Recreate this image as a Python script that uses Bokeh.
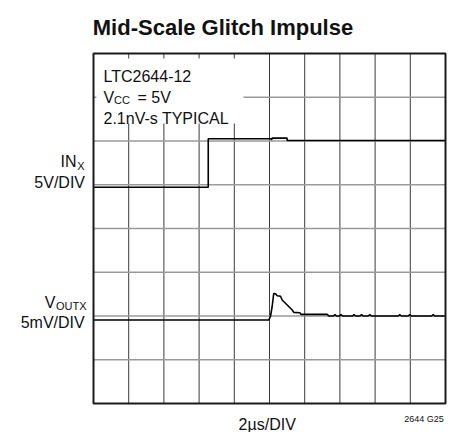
from bokeh.plotting import figure
from bokeh.models import Range1d
from bokeh.core.properties import value
from bokeh.embed import file_html
from bokeh.resources import INLINE

# ---- data -------------------------------------------------------------
title_text = "Mid-Scale Glitch Impulse"
x_ticks_us = [2, 4, 6, 8, 10, 12, 14, 16, 18]      # 2us/DIV, inner grid
y_ticks_div = [1, 2, 3, 4, 5, 6, 7]                # screen divisions
x_span = (0, 20)
y_span = (0, 8)

# IN_X trace (screen divisions, 5V/DIV)
in_t = [0, 6.52, 6.52, 10.08, 10.12, 10.16, 11.0, 11.0, 20]
in_div = [4.943, 4.943, 6.05, 6.05, 6.03, 6.066, 6.066, 6.011, 6.011]

# V_OUTX trace (screen divisions, 5mV/DIV)
out_t = [0, 9.96, 10.06, 10.15, 10.24, 10.34, 10.44, 10.63, 10.72, 11.29,
         11.38, 11.72, 11.80, 13.28, 13.37, 13.64, 13.72, 13.81, 13.98,
         14.06, 14.15, 14.72, 14.80, 14.89, 15.14, 15.23, 15.31, 15.61,
         15.70, 15.79, 17.32, 17.40, 17.49, 17.89, 17.97, 18.06, 19.22,
         19.30, 19.39, 20]
out_div = [1.909, 1.909, 2.0, 2.212, 2.514, 2.509, 2.463, 2.452, 2.365, 2.137,
           2.082, 2.075, 2.037, 2.037, 2.0, 2.0, 2.032, 2.0, 2.0,
           2.032, 2.0, 2.0, 2.032, 2.0, 2.0, 2.032, 2.0, 2.0,
           2.032, 2.0, 2.0, 2.032, 2.0, 2.0, 2.032, 2.0, 2.0,
           2.032, 2.0, 2.0]

FONT = "Liberation Sans"
INK = "#111111"

W, H = 456, 432
# frame covers the whole canvas; data box spans px 93..445 x, 53..403 y
PX_PER_US = 17.6
PX_PER_DIV = 43.75
X0, Y0 = 93.0, 403.0
p = figure(width=W, height=H,
           x_range=Range1d(-X0 / PX_PER_US, (W - X0) / PX_PER_US),
           y_range=Range1d((Y0 - H) / PX_PER_DIV, Y0 / PX_PER_DIV),
           output_backend="svg", toolbar_location=None, title=None,
           x_axis_location=None, y_axis_location=None,
           min_border_left=0, min_border_right=0, min_border_top=0,
           min_border_bottom=0)
p.outline_line_color = None
p.background_fill_color = "white"
p.border_fill_color = "white"
p.xgrid.visible = False
p.ygrid.visible = False

# graticule
p.segment(x0=x_ticks_us, y0=[y_span[0]] * len(x_ticks_us),
          x1=x_ticks_us, y1=[y_span[1]] * len(x_ticks_us),
          line_color="#3c3c3c", line_width=1)
p.segment(x0=[x_span[0]] * len(y_ticks_div), y0=y_ticks_div,
          x1=[x_span[1]] * len(y_ticks_div), y1=y_ticks_div,
          line_color="#9a9a9a", line_width=1.6)

# white box behind the annotation text
p.quad(left=0.17, right=8.52, bottom=6.4, top=7.886,
       fill_color="white", line_color=None)

p.line(in_t, in_div, line_color="black", line_width=1.6)
p.line(out_t, out_div, line_color="black", line_width=1.6)

# scope frame
p.quad(left=x_span[0], right=x_span[1], bottom=y_span[0], top=y_span[1],
       fill_color=None, line_color="#1a1a1a", line_width=2)


def lab(x, y, text, size, align="left", bold=False):
    p.text(x=[x], y=[y], text=[text], text_font=value(FONT),
           text_font_size=size, text_align=align,
           text_baseline="alphabetic", text_color=INK,
           text_font_style="bold" if bold else "normal")


lab(-0.04, 8.594, title_text, "22px", bold=True)
lab(0.568, 7.481, "LTC2644-12", "16px")
lab(0.568, 6.987, "V", "16px")
lab(1.165, 6.926, "CC", "11px")
lab(2.5, 6.987, "= 5V", "16px")
lab(0.568, 6.507, "2.1nV-s TYPICAL", "16px")
lab(-0.966, 5.538, "IN", "16px", align="right")
lab(-0.926, 5.44, "X", "11px")
lab(-0.483, 5.058, "5V/DIV", "16px", align="right")
lab(-2.159, 2.301, "V", "16px", align="right")
lab(-2.131, 2.24, "OUTX", "11px")
lab(-0.5, 1.858, "5mV/DIV", "16px", align="right")
lab(9.87, -0.48, "2µs/DIV", "16px", align="center")
lab(19.9, -0.35, "2644 G25", "9px", align="right")

open("out.html", "w").write(file_html(p, INLINE))
